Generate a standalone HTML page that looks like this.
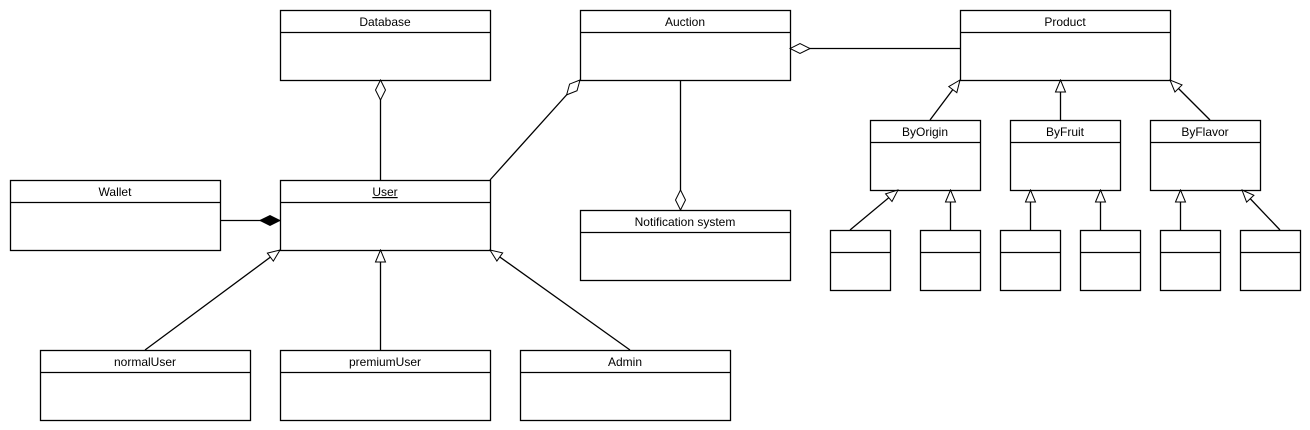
<!DOCTYPE html>
<html><head><meta charset="utf-8"><style>
html,body{margin:0;padding:0;background:#fff;width:1310px;height:430px;overflow:hidden}
text{font-family:"Liberation Sans",sans-serif;font-size:12px;fill:#000}
</style></head><body>
<svg width="1310" height="430" xmlns="http://www.w3.org/2000/svg">
<defs>
<marker id="tri" viewBox="0 0 14 12" refX="13" refY="6" markerWidth="14" markerHeight="12" markerUnits="userSpaceOnUse" orient="auto">
<path d="M1,1 L13,6 L1,11 Z" fill="#fff" stroke="#000" stroke-width="1"/></marker>
<marker id="dia" viewBox="0 0 22 12" refX="21" refY="6" markerWidth="22" markerHeight="12" markerUnits="userSpaceOnUse" orient="auto">
<path d="M1,6 L11,1 L21,6 L11,11 Z" fill="#fff" stroke="#000" stroke-width="1"/></marker>
<marker id="fdia" viewBox="0 0 22 12" refX="21" refY="6" markerWidth="22" markerHeight="12" markerUnits="userSpaceOnUse" orient="auto">
<path d="M1,6 L11,1 L21,6 L11,11 Z" fill="#000" stroke="#000" stroke-width="1"/></marker>
</defs>
<g fill="#fff" stroke="#000" stroke-width="1.3">
<rect x="280.5" y="10.5" width="210" height="70"/><line x1="280" y1="32.5" x2="490" y2="32.5"/>
<rect x="280.5" y="180.5" width="210" height="70"/><line x1="280" y1="202.5" x2="490" y2="202.5"/>
<rect x="10.5" y="180.5" width="210" height="70"/><line x1="10" y1="202.5" x2="220" y2="202.5"/>
<rect x="580.5" y="10.5" width="210" height="70"/><line x1="580" y1="32.5" x2="790" y2="32.5"/>
<rect x="960.5" y="10.5" width="210" height="70"/><line x1="960" y1="32.5" x2="1170" y2="32.5"/>
<rect x="580.5" y="210.5" width="210" height="70"/><line x1="580" y1="232.5" x2="790" y2="232.5"/>
<rect x="40.5" y="350.5" width="210" height="70"/><line x1="40" y1="372.5" x2="250" y2="372.5"/>
<rect x="280.5" y="350.5" width="210" height="70"/><line x1="280" y1="372.5" x2="490" y2="372.5"/>
<rect x="520.5" y="350.5" width="210" height="70"/><line x1="520" y1="372.5" x2="730" y2="372.5"/>
<rect x="870.5" y="120.5" width="110" height="70"/><line x1="870" y1="142.5" x2="980" y2="142.5"/>
<rect x="1010.5" y="120.5" width="110" height="70"/><line x1="1010" y1="142.5" x2="1120" y2="142.5"/>
<rect x="1150.5" y="120.5" width="110" height="70"/><line x1="1150" y1="142.5" x2="1260" y2="142.5"/>
<rect x="830.5" y="230.5" width="60" height="60"/><line x1="830" y1="252.5" x2="890" y2="252.5"/>
<rect x="920.5" y="230.5" width="60" height="60"/><line x1="920" y1="252.5" x2="980" y2="252.5"/>
<rect x="1000.5" y="230.5" width="60" height="60"/><line x1="1000" y1="252.5" x2="1060" y2="252.5"/>
<rect x="1080.5" y="230.5" width="60" height="60"/><line x1="1080" y1="252.5" x2="1140" y2="252.5"/>
<rect x="1160.5" y="230.5" width="60" height="60"/><line x1="1160" y1="252.5" x2="1220" y2="252.5"/>
<rect x="1240.5" y="230.5" width="60" height="60"/><line x1="1240" y1="252.5" x2="1300" y2="252.5"/>
</g>
<g fill="none" stroke="#000" stroke-width="1.3">
<line x1="380.5" y1="180" x2="380.5" y2="80" marker-end="url(#dia)"/>
<line x1="490" y1="180" x2="580" y2="80" marker-end="url(#dia)"/>
<line x1="220" y1="220.5" x2="280" y2="220.5" marker-end="url(#fdia)"/>
<line x1="680.5" y1="80" x2="680.5" y2="210" marker-end="url(#dia)"/>
<line x1="960" y1="48.5" x2="790" y2="48.5" marker-end="url(#dia)"/>
<line x1="145" y1="350" x2="280" y2="250" marker-end="url(#tri)"/>
<line x1="380.5" y1="350" x2="380.5" y2="250" marker-end="url(#tri)"/>
<line x1="630" y1="350" x2="490" y2="250" marker-end="url(#tri)"/>
<line x1="930" y1="120" x2="960" y2="80" marker-end="url(#tri)"/>
<line x1="1060.5" y1="120" x2="1060.5" y2="80" marker-end="url(#tri)"/>
<line x1="1210" y1="120" x2="1170" y2="80" marker-end="url(#tri)"/>
<line x1="850" y1="230" x2="898" y2="190" marker-end="url(#tri)"/>
<line x1="950.5" y1="230" x2="950.5" y2="190" marker-end="url(#tri)"/>
<line x1="1030.5" y1="230" x2="1030.5" y2="190" marker-end="url(#tri)"/>
<line x1="1100.5" y1="230" x2="1100.5" y2="190" marker-end="url(#tri)"/>
<line x1="1180.5" y1="230" x2="1180.5" y2="190" marker-end="url(#tri)"/>
<line x1="1280" y1="230" x2="1242" y2="190" marker-end="url(#tri)"/>
</g>
<g text-anchor="middle">
<text x="385" y="26">Database</text>
<text x="385" y="196" text-decoration="underline">User</text>
<text x="115" y="196">Wallet</text>
<text x="685" y="26">Auction</text>
<text x="1065" y="26">Product</text>
<text x="685" y="226">Notification system</text>
<text x="145" y="366">normalUser</text>
<text x="385" y="366">premiumUser</text>
<text x="625" y="366">Admin</text>
<text x="925" y="136">ByOrigin</text>
<text x="1065" y="136">ByFruit</text>
<text x="1205" y="136">ByFlavor</text>
</g>
</svg>
</body></html>
